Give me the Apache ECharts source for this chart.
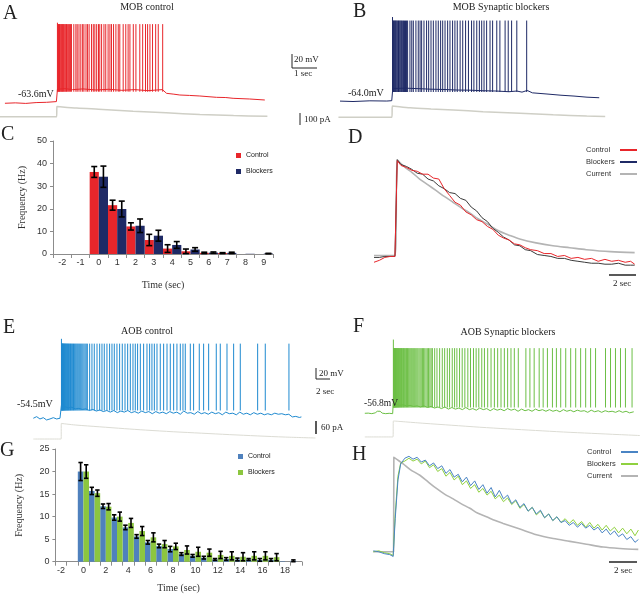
<!DOCTYPE html>
<html>
<head>
<meta charset="utf-8">
<script src="https://cdn.jsdelivr.net/npm/echarts@6/dist/echarts.min.js"></script>
<style>
  html, body { margin: 0; padding: 0; background: #fff; }
  #chart { width: 640px; height: 595px; }
</style>
</head>
<body>
<div id="chart"></div>
<script>
// ---------- data ----------
// A / B : MOB traces (t in s, membrane in mV, current in pA)
var aBase = [[0,-64.0],[0.4,-63.4],[0.8,-64.2],[1.2,-63.0],[1.6,-62.6],[1.98,-61.6],[2.02,-44],[2.3,-43],[2.6,-44.5],[3.0,-43.5],[3.5,-45],[4.0,-44],[4.5,-45.5],[5.0,-44.5],[5.5,-46],[6.06,-44.5],[6.22,-49.8],[6.5,-51],[6.73,-52.2],[7.1,-52.8],[7.5,-53.6],[8.14,-55.5],[8.5,-55.8],[8.78,-56.9],[9.42,-57.9],[10.0,-59.3]]
var aSpikeT = [2.02,2.04,2.06,2.08,2.10,2.12,2.15,2.17,2.20,2.22,2.25,2.28,2.31,2.34,2.37,2.40,2.44,2.48,2.52,2.56,2.65,2.73,2.78,2.85,2.92,2.99,3.04,3.12,3.18,3.24,3.33,3.40,3.46,3.53,3.60,3.65,3.72,3.81,3.88,3.97,4.04,4.10,4.18,4.27,4.36,4.42,4.55,4.65,4.74,4.81,4.94,5.04,5.19,5.30,5.41,5.49,5.58,5.68,5.80,5.90,6.07]
var aSpikePeak = [51, 49]   // first spike, the rest
var aTrough = -47.5
var aCurrent = [[-0.19,0],[1.99,0],[2.0,85],[2.76,72],[3.6,62],[4.93,46],[6.2,32],[7.5,18],[8.8,9],[10.1,3]]

var bBase = [[0,-64.0],[0.5,-64.6],[1.15,-63.6],[1.8,-63.9],[1.99,-63.4],[2.03,-46],[2.5,-45.5],[3,-46.2],[3.5,-47],[4,-47.4],[4.5,-48.2],[5,-48.4],[5.5,-49.2],[6,-49.6],[6.5,-50.6],[6.8,-49.6],[7.0,-51.2],[7.2,-48.8],[7.4,-52.2],[8,-54],[8.5,-55.6],[9,-56.8],[9.5,-58.4],[9.97,-59.2]]
var bSpikeT = [2.02,2.04,2.06,2.09,2.11,2.14,2.16,2.19,2.22,2.25,2.28,2.31,2.34,2.37,2.41,2.44,2.48,2.52,2.56,2.60,2.69,2.76,2.82,2.92,3.01,3.08,3.14,3.23,3.33,3.41,3.50,3.59,3.69,3.78,3.87,3.95,4.04,4.14,4.23,4.33,4.42,4.51,4.62,4.72,4.83,4.94,5.06,5.15,5.26,5.36,5.45,5.54,5.64,5.77,5.87,6.03,6.15,6.35,6.47,6.60,6.80,7.18]
var bSpikePeak = [56, 51]
var bTrough = -51
var bCurrent = [[-0.06,0],[1.99,0],[2.02,94],[2.7,80],[3.5,70],[4.36,61],[5.5,47],[6.92,33],[8.2,21],[9.49,11],[10.2,6]]

// C : MOB firing frequency (Hz) per 1 s bin
var cCats = ['-2','-1','0','1','2','3','4','5','6','7','8','9']
var cControl = [0,0,36.3,21.6,12.2,6.2,2.4,1.2,0.5,0.4,0,0]
var cControlErr = [null,null,2.4,2.2,1.6,2.5,1.7,1.0,0.3,0.2,null,null]
var cBlockers = [0,0,34.2,19.9,12.5,8.1,4.0,2.0,0.6,0.5,0.1,0.2]
var cBlockersErr = [null,null,4.7,3.5,3.0,2.4,1.5,0.8,0.3,0.3,null,0.1]

// D : normalised rate vs current (MOB)
var dT = [-1.6,-1.2,-0.8,-0.4,-0.05,0.12,0.4,0.8,1.2,1.6,2.0,2.4,2.8,3.2,3.6,4.0,4.4,4.8,5.2,5.6,6.0,6.4,6.8,7.2,7.6,8.0,8.4,8.8,9.2,9.6,10.0,10.5,11.0,11.5,12.0,12.5,13.0,13.5,14.0,14.5,15.0,15.5,16.0,16.5,17.0,17.4,17.7]
var dControl = [-0.06,-0.04,-0.01,0.0,0.0,0.99,0.94,0.92,0.89,0.88,0.85,0.85,0.81,0.80,0.70,0.63,0.56,0.53,0.46,0.43,0.38,0.36,0.31,0.28,0.22,0.19,0.17,0.13,0.12,0.09,0.07,0.06,0.03,0.03,0.00,0.01,-0.02,-0.01,-0.03,-0.02,-0.05,-0.03,-0.05,-0.04,-0.06,-0.05,-0.08]
var dBlockers = [-0.01,-0.01,0.0,0.0,0.0,1.0,0.95,0.93,0.90,0.86,0.85,0.80,0.78,0.73,0.70,0.66,0.65,0.60,0.58,0.51,0.47,0.40,0.36,0.29,0.25,0.20,0.17,0.12,0.11,0.07,0.06,0.02,0.01,0.00,-0.02,-0.02,-0.04,-0.05,-0.06,-0.07,-0.07,-0.08,-0.08,-0.07,-0.09,-0.09,-0.09]
var dCurT = [-1.6,-0.05,0.12,0.4,0.79,1.2,1.78,2.4,3.01,3.6,4.25,4.9,5.48,6.1,6.72,7.7,8.4,9.19,10.4,11.65,12.9,14.12,15.9,17.7]
var dCurrent = [0.01,0.01,1.0,0.96,0.91,0.87,0.80,0.74,0.68,0.62,0.56,0.50,0.45,0.39,0.34,0.26,0.22,0.18,0.14,0.11,0.09,0.07,0.05,0.04]

// E / F : AOB traces
var eBase = [[0,-54.5],[0.48,-51.5],[0.95,-55.8],[1.43,-53.4],[1.9,-57.7],[2.38,-55.8],[2.86,-53.4],[3.33,-55.8],[3.81,-54.5],[3.98,-55],[4.02,-30],[4.5,-33],[5,-35],[5.5,-34],[6,-37],[6.5,-36],[7,-38],[7.5,-37],[8,-40],[8.5,-38],[9,-41],[9.5,-39],[10,-42],[10.5,-40],[11,-43],[11.5,-40],[12,-44],[12.5,-41],[13,-43],[13.5,-40],[14,-44],[14.5,-42],[15,-45],[15.5,-41],[16,-44],[16.5,-42],[17,-46],[17.5,-42],[18,-45],[18.5,-43],[19,-46],[19.5,-42],[20,-45],[20.5,-43],[21,-47],[21.5,-41],[22,-45],[22.5,-44],[23,-47],[23.5,-42],[24,-46],[24.5,-44],[25,-47],[25.5,-43],[26,-46],[26.5,-44],[27,-48],[27.5,-43],[28,-46],[28.5,-45],[29,-48],[29.5,-43],[30,-47],[30.5,-45],[31,-48],[31.5,-44],[32,-47],[32.5,-45],[33,-48],[33.5,-46],[34,-48],[34.5,-45],[35,-47],[35.5,-46],[36,-48],[36.5,-47],[37,-52],[37.5,-51],[38,-53],[38.3,-52]]
var eSpikeT = [4.02,4.05,4.09,4.13,4.17,4.22,4.27,4.32,4.38,4.44,4.50,4.57,4.64,4.71,4.79,4.87,4.95,5.04,5.13,5.22,5.32,5.42,5.52,5.63,5.74,5.86,5.98,6.10,6.23,6.36,6.50,6.64,6.78,6.93,7.08,7.24,7.40,7.56,7.72,8.05,8.38,8.71,9.10,9.48,9.81,10.14,10.52,10.90,11.24,11.57,11.95,12.33,12.71,13.10,13.48,13.86,14.24,14.57,14.90,15.29,15.76,16.24,16.62,16.95,17.29,17.67,18.14,18.62,19.10,19.57,20.05,20.52,21.00,21.38,21.71,22.43,22.90,23.71,24.33,25.05,26.14,26.71,27.67,28.62,29.57,32.05,33.14,36.52]
var eSpikePeak = [94, 85]
var eTrough = -40
var eCurrent = [[0,0],[3.98,0],[4.0,120],[6,108],[9.5,94],[13,80],[16,69],[20,56],[24,45],[28,34],[32,24],[36,15],[40.3,8]]

var fBase = [[-0.5,-56.8],[0,-56.5],[0.5,-57.5],[1.0,-56],[1.3,-53],[1.5,-50.5],[1.7,-53],[2.0,-56.5],[2.5,-57.5],[3.0,-56.8],[3.5,-57.5],[3.58,-38],[4,-40],[4.5,-42],[5,-41],[5.5,-43],[6,-42],[6.5,-44],[7,-43],[7.5,-45],[8,-43],[8.5,-46],[9,-44],[9.5,-47],[10,-45],[10.5,-48],[11,-45],[11.5,-49],[12,-46],[12.5,-49],[13,-47],[13.5,-50],[14,-46],[14.5,-50],[15,-48],[15.5,-51],[16,-47],[16.5,-50],[17,-48],[17.5,-52],[18,-48],[18.5,-51],[19,-49],[19.5,-52],[20,-48],[20.5,-51],[21,-49],[21.5,-53],[22,-49],[22.5,-52],[23,-50],[23.5,-53],[24,-49],[24.5,-52],[25,-50],[25.5,-53],[26,-50],[26.5,-53],[27,-51],[27.5,-54],[28,-50],[28.5,-53],[29,-51],[29.5,-54],[30,-51],[30.5,-53],[31,-52],[31.5,-55],[32,-51],[32.5,-54],[33,-52],[33.5,-55],[34,-52],[34.5,-54],[35,-53],[35.5,-55],[36,-52],[36.5,-55],[37,-53],[37.5,-56],[38.1,-54]]
var fSpikeT = [3.60,3.63,3.67,3.71,3.75,3.80,3.85,3.90,3.96,4.02,4.08,4.15,4.22,4.29,4.36,4.44,4.52,4.60,4.69,4.78,4.87,4.97,5.07,5.17,5.28,5.39,5.50,5.62,5.74,5.86,5.99,6.12,6.25,6.39,6.53,6.67,6.82,6.97,7.12,7.28,7.44,7.60,7.77,7.94,8.11,8.29,8.47,8.65,8.84,9.02,9.20,9.53,9.86,10.24,10.62,10.96,11.34,11.67,12.05,12.39,12.72,13.10,13.48,13.86,14.29,14.67,15.10,15.48,15.86,16.29,16.67,17.14,17.62,18.10,18.57,19.05,19.53,20.00,20.48,20.96,21.53,22.62,23.20,23.81,24.53,25.10,25.71,26.43,27.00,27.62,28.34,29.05,29.77,30.48,31.20,31.91,32.62,34.05,34.77,35.48,36.20,36.91,37.86]
var fSpikePeak = [81, 65]
var fTrough = -46
var fCurrent = [[-0.5,0],[3.55,0],[3.6,123],[8,105],[12,90],[16,75],[20,62],[24,50],[28,38],[32,28],[36,18],[39,11]]

// G : AOB firing frequency (Hz) per 1 s bin
var gCats = ['-2','-1','0','1','2','3','4','5','6','7','8','9','10','11','12','13','14','15','16','17','18','19']
var gControl = [0,0,20,15.7,12.3,9.8,7.6,5.6,4.3,3.5,2.8,1.7,1.3,0.9,0.5,0.6,0.5,0.5,0.4,0.4,0.1,0.2]
var gControlErr = [null,null,2.0,0.8,0.5,0.6,0.5,0.4,0.4,0.4,0.6,0.3,0.3,0.3,0.2,0.3,0.3,0.2,0.3,0.3,null,0.2]
var gBlockers = [0,0,20,15.2,12.2,10.0,8.6,6.8,5.4,3.9,3.4,2.6,2.2,2.0,1.5,1.3,1.1,1.3,1.3,1.0,0,0]
var gBlockersErr = [null,null,1.5,0.7,0.7,1.0,1.0,1.0,1.0,0.8,0.7,0.9,1.0,0.8,0.8,0.9,0.9,0.9,0.9,0.8,null,null]

// H : normalised rate vs current (AOB)
var hT = [-1.5,-1.1,-0.7,-0.3,-0.05,0.1,0.3,0.5,0.8,1.1,1.4,1.7,2.0,2.3,2.6,2.9,3.2,3.5,3.8,4.1,4.4,4.7,5.0,5.3,5.6,5.9,6.2,6.5,6.8,7.1,7.4,7.7,8.0,8.3,8.6,8.9,9.2,9.5,9.8,10.1,10.4,10.7,11.0,11.3,11.6,11.9,12.2,12.5,12.8,13.1,13.4,13.7,14.0,14.3,14.6,14.9,15.2,15.5,15.8,16.1,16.4,16.7,17.0,17.3,17.6,17.85]
var hControl = [0.01,0.00,-0.02,-0.03,-0.05,0.35,0.76,0.93,0.99,1.01,0.98,1.00,0.95,0.97,0.91,0.94,0.88,0.91,0.83,0.87,0.79,0.82,0.74,0.79,0.70,0.75,0.66,0.71,0.62,0.68,0.58,0.65,0.56,0.60,0.51,0.55,0.47,0.51,0.43,0.47,0.40,0.44,0.36,0.40,0.33,0.37,0.31,0.33,0.28,0.31,0.26,0.30,0.25,0.28,0.23,0.26,0.20,0.24,0.18,0.22,0.16,0.19,0.13,0.16,0.10,0.13]
var hBlockers = [0.00,0.01,-0.01,-0.02,-0.04,0.40,0.80,0.94,0.96,0.99,0.96,0.98,0.93,0.96,0.89,0.92,0.85,0.88,0.80,0.84,0.76,0.80,0.71,0.75,0.67,0.71,0.63,0.67,0.60,0.64,0.56,0.60,0.53,0.57,0.50,0.54,0.46,0.50,0.43,0.47,0.39,0.43,0.36,0.40,0.33,0.37,0.31,0.35,0.30,0.34,0.28,0.32,0.26,0.31,0.25,0.29,0.23,0.28,0.22,0.26,0.20,0.25,0.19,0.24,0.17,0.23]
var hCurT = [-1.5,-0.02,0.0,0.3,0.68,1.2,1.9,2.5,3.11,3.7,4.33,4.9,5.55,6.1,6.76,7.4,7.98,9.2,10.41,11.63,12.85,14.06,15.28,16.5,17.84]
var hCurrent = [0.0,0.0,1.0,0.97,0.93,0.87,0.81,0.74,0.67,0.61,0.56,0.51,0.46,0.41,0.37,0.33,0.30,0.24,0.18,0.14,0.11,0.08,0.05,0.035,0.025]

// ---------- styling ----------
var serif = '"Liberation Serif", "DejaVu Serif", serif'
var sans = '"Liberation Sans", Arial, sans-serif'
var RED = '#e8262b', NAVY = '#1f2a66', CURR = '#cfcfc6'
var BLUE_E = '#1f8ad0', GREEN_F = '#6cbf45'
var BAR_BLUE = '#4f81bd', BAR_GREEN = '#8cc63f'

function zip(xs, ys) { return xs.map(function (x, i) { return [x, ys[i]] }) }

// hidden value axes for the trace panels
function hid(gi, min, max) {
  return { gridIndex: gi, type: 'value', min: min, max: max, show: false }
}

function trace(idx, pts, color, width, smooth) {
  return {
    type: 'line', xAxisIndex: idx, yAxisIndex: idx, data: pts,
    symbol: 'none', smooth: smooth || false, silent: true,
    lineStyle: { color: color, width: width || 1 }, itemStyle: { color: color }
  }
}

// each spike is a vertical stroke from trough to peak
function spikes(idx, times, peak, trough, color) {
  return {
    type: 'custom', xAxisIndex: idx, yAxisIndex: idx, silent: true, z: 3,
    data: times.map(function (t, i) { return [t, i === 0 ? peak[0] : peak[1], trough] }),
    renderItem: function (params, api) {
      var a = api.coord([api.value(0), api.value(2)])
      var b = api.coord([api.value(0), api.value(1)])
      return { type: 'line', shape: { x1: a[0], y1: a[1], x2: b[0], y2: b[1] },
        style: { stroke: color, lineWidth: 1 } }
    }
  }
}

function errorBars(idx, vals, errs, side, cap) {
  var rows = []
  vals.forEach(function (v, i) { if (errs[i] != null) rows.push([i, v, errs[i]]) })
  return {
    type: 'custom', xAxisIndex: idx, yAxisIndex: idx, z: 5, silent: true,
    data: rows,
    renderItem: function (params, api) {
      var i = api.value(0), v = api.value(1), e = api.value(2)
      var w = api.size([1, 0])[0]
      var x = api.coord([i, v])[0] + side * w / 4
      var yt = api.coord([i, v + e])[1]
      var yb = api.coord([i, Math.max(v - e, 0)])[1]
      var st = { stroke: '#000', lineWidth: 1.6 }
      return { type: 'group', children: [
        { type: 'line', shape: { x1: x, y1: yt, x2: x, y2: yb }, style: st },
        { type: 'line', shape: { x1: x - cap, y1: yt, x2: x + cap, y2: yt }, style: st },
        { type: 'line', shape: { x1: x - cap, y1: yb, x2: x + cap, y2: yb }, style: st }
      ] }
    }
  }
}

function barX(gi, cats, labelInterval, nameGap) {
  return {
    gridIndex: gi, type: 'category', data: cats,
    axisLine: { show: true, lineStyle: { color: '#8c8c8c' } },
    axisTick: { show: true, length: 4, interval: 0, lineStyle: { color: '#8c8c8c' } },
    axisLabel: { interval: labelInterval, color: '#333', fontSize: 9, fontFamily: sans, margin: 4 },
    name: 'Time (sec)', nameLocation: 'middle', nameGap: nameGap,
    nameTextStyle: { fontFamily: serif, fontSize: 10, color: '#333' }
  }
}

function barY(gi, max, interval, nameGap) {
  return {
    gridIndex: gi, type: 'value', min: 0, max: max, interval: interval,
    axisLine: { show: true, lineStyle: { color: '#8c8c8c' } },
    axisTick: { show: true, length: 3, lineStyle: { color: '#8c8c8c' } },
    splitLine: { show: false },
    axisLabel: { color: '#333', fontSize: 9, fontFamily: sans, margin: 6 },
    name: 'Frequency (Hz)', nameLocation: 'middle', nameRotate: 90, nameGap: nameGap,
    nameTextStyle: { fontFamily: serif, fontSize: 10, color: '#333' }
  }
}

function label(text, x, y, size, font, align) {
  return { type: 'text', x: x, y: y, z: 100, silent: true,
    style: { text: text, font: size + 'px ' + font, fill: '#222', align: align || 'left', verticalAlign: 'middle' } }
}
function seg(x1, y1, x2, y2, w) {
  return { type: 'line', z: 100, silent: true, shape: { x1: x1, y1: y1, x2: x2, y2: y2 },
    style: { stroke: '#222', lineWidth: w || 1 } }
}

var grids = [
  { left: 0, top: 15, width: 270, height: 110 },       // 0 A voltage
  { left: 0, top: 100, width: 270, height: 22 },       // 1 A current
  { left: 337.4, top: 15, width: 269.1, height: 110 }, // 2 B voltage
  { left: 337.4, top: 100, width: 269.1, height: 22 }, // 3 B current
  { left: 53, top: 141, width: 220, height: 113 },     // 4 C bars
  { left: 374, top: 150, width: 262, height: 120 },    // 5 D
  { left: 33.3, top: 330, width: 283.5, height: 95 },  // 6 E voltage
  { left: 33.3, top: 415, width: 283.5, height: 30 },  // 7 E current
  { left: 364.8, top: 330, width: 276.5, height: 95 }, // 8 F voltage
  { left: 364.8, top: 415, width: 276.5, height: 30 }, // 9 F current
  { left: 55.4, top: 449, width: 246.4, height: 112.7 }, // 10 G bars
  { left: 373.3, top: 445, width: 265.8, height: 120 }   // 11 H
]

var xAxes = [
  hid(0, -0.19, 10.2), hid(1, -0.19, 10.2), hid(2, -0.1, 10.25), hid(3, -0.1, 10.25),
  barX(4, cCats, 0, 26),
  hid(5, -1.6, 17.8),
  hid(6, 0, 40.5), hid(7, 0, 40.5), hid(8, -0.5, 39), hid(9, -0.5, 39),
  barX(10, gCats, 1, 22),
  hid(11, -1.5, 17.9)
]
var yAxes = [
  hid(0, -95, 62), hid(1, -44.3, 139), hid(2, -98.1, 58.9), hid(3, -39.3, 144),
  barY(4, 50, 10, 26),
  hid(5, -0.14, 1.1),
  hid(6, -67.1, 110.5), hid(7, -46, 185), hid(8, -78.7, 98.9), hid(9, -62, 169),
  barY(10, 25, 5, 31),
  hid(11, -0.14, 1.13)
]

var series = [
  trace(1, aCurrent, CURR, 1.5, 0.3),
  trace(0, aBase, RED, 1),
  spikes(0, aSpikeT, aSpikePeak, aTrough, RED),
  trace(3, bCurrent, CURR, 1.5, 0.3),
  trace(2, bBase, NAVY, 1),
  spikes(2, bSpikeT, bSpikePeak, bTrough, NAVY),

  { type: 'bar', name: 'c:Control', xAxisIndex: 4, yAxisIndex: 4, data: cControl,
    itemStyle: { color: RED }, barGap: '0%', barCategoryGap: '0%', silent: true },
  { type: 'bar', name: 'c:Blockers', xAxisIndex: 4, yAxisIndex: 4, data: cBlockers,
    itemStyle: { color: NAVY }, barGap: '0%', barCategoryGap: '0%', silent: true },
  errorBars(4, cControl, cControlErr, -1, 3),
  errorBars(4, cBlockers, cBlockersErr, 1, 3),

  Object.assign(trace(5, zip(dCurT, dCurrent), '#b4b4b4', 1.6, 0.3), { name: 'd:Current' }),
  Object.assign(trace(5, zip(dT, dBlockers), '#3a3a3a', 1), { name: 'd:Blockers' }),
  Object.assign(trace(5, zip(dT, dControl), RED, 1), { name: 'd:Control' }),

  trace(7, eCurrent, '#dcdcd4', 1, 0.3),
  trace(6, eBase, BLUE_E, 1),
  spikes(6, eSpikeT, eSpikePeak, eTrough, BLUE_E),
  trace(9, fCurrent, '#dcdcd4', 1, 0.3),
  trace(8, fBase, GREEN_F, 1),
  spikes(8, fSpikeT, fSpikePeak, fTrough, GREEN_F),

  { type: 'bar', name: 'g:Control', xAxisIndex: 10, yAxisIndex: 10, data: gControl,
    itemStyle: { color: BAR_BLUE }, barGap: '0%', barCategoryGap: '0%', silent: true },
  { type: 'bar', name: 'g:Blockers', xAxisIndex: 10, yAxisIndex: 10, data: gBlockers,
    itemStyle: { color: BAR_GREEN }, barGap: '0%', barCategoryGap: '0%', silent: true },
  errorBars(10, gControl, gControlErr, -1, 2.2),
  errorBars(10, gBlockers, gBlockersErr, 1, 2.2),

  Object.assign(trace(11, zip(hCurT, hCurrent), '#b4b4b4', 1.6, 0.3), { name: 'h:Current' }),
  Object.assign(trace(11, zip(hT, hBlockers), '#8fd13f', 1), { name: 'h:Blockers' }),
  Object.assign(trace(11, zip(hT, hControl), '#4a84c4', 1), { name: 'h:Control' })
]

function strip(n) { return n.slice(2) }
var sqLegend = { orient: 'vertical', icon: 'rect', itemWidth: 5, itemHeight: 5, itemGap: 9,
  padding: 0, selectedMode: false, formatter: strip,
  textStyle: { fontSize: 7, fontFamily: sans, color: '#222' } }
// text in a fixed-width box, left aligned, line sample to the right
var lineLegend = { orient: 'vertical', icon: 'rect', align: 'right', itemWidth: 17, itemHeight: 2,
  itemGap: 4, padding: 0, selectedMode: false,
  formatter: function (n) { return '{t|' + n.slice(2) + '}' },
  textStyle: { fontSize: 7.5, fontFamily: sans, color: '#333',
    rich: { t: { width: 29, align: 'left', fontSize: 7.5, fontFamily: sans, color: '#333' } } } }

var legends = [
  Object.assign({}, sqLegend, { left: 236, top: 152, data: ['c:Control', 'c:Blockers'] }),
  Object.assign({}, lineLegend, { left: 586, top: 146, data: [
    { name: 'd:Control', itemStyle: { color: RED } },
    { name: 'd:Blockers', itemStyle: { color: NAVY } },
    { name: 'd:Current', itemStyle: { color: '#b4b4b4' } }] }),
  Object.assign({}, sqLegend, { left: 238, top: 453, data: ['g:Control', 'g:Blockers'] }),
  Object.assign({}, lineLegend, { left: 587, top: 448, data: [
    { name: 'h:Control', itemStyle: { color: '#4a84c4' } },
    { name: 'h:Blockers', itemStyle: { color: '#8fd13f' } },
    { name: 'h:Current', itemStyle: { color: '#b4b4b4' } }] })
]

var graphics = [
  label('A', 3, 14, 20, serif), label('B', 353, 12, 20, serif),
  label('C', 1, 135, 20, serif), label('D', 348, 138, 20, serif),
  label('E', 3, 328, 20, serif), label('F', 353, 327, 20, serif),
  label('G', 0, 451, 20, serif), label('H', 352, 455, 20, serif),
  label('MOB control', 147, 7, 10, serif, 'center'),
  label('MOB Synaptic blockers', 501, 7, 10, serif, 'center'),
  label('AOB control', 147, 331, 10, serif, 'center'),
  label('AOB Synaptic blockers', 508, 332, 10, serif, 'center'),
  label('-63.6mV', 18, 94, 10, serif), label('-64.0mV', 348, 93, 10, serif),
  label('-54.5mV', 17, 404, 10, serif), label('-56.8mV', 364, 403, 9.5, serif),
  // MOB scale bars
  seg(292, 54, 292, 68), seg(292, 68, 317, 68),
  label('20 mV', 294, 60, 9, serif), label('1 sec', 303, 74, 9, serif, 'center'),
  seg(300, 113, 300, 125), label('100 pA', 304, 120, 9, serif),
  // AOB scale bars
  seg(316, 368, 316, 379), seg(316, 379, 330, 379),
  label('20 mV', 319, 374, 9, serif), label('2 sec', 316, 392, 9, serif),
  seg(316, 421, 316, 434, 1.5), label('60 pA', 321, 428, 9, serif),
  // time bars in D and H
  seg(609, 275, 636, 275, 1.5), label('2 sec', 622, 284, 9, serif, 'center'),
  seg(609, 562, 637, 562, 1.5), label('2 sec', 623, 571, 9, serif, 'center')
]

var chart = echarts.init(document.getElementById('chart'), null, { renderer: 'canvas' })
chart.setOption({
  animation: false,
  backgroundColor: '#fff',
  grid: grids,
  xAxis: xAxes,
  yAxis: yAxes,
  legend: legends,
  series: series,
  graphic: graphics
})
</script>
</body>
</html>
